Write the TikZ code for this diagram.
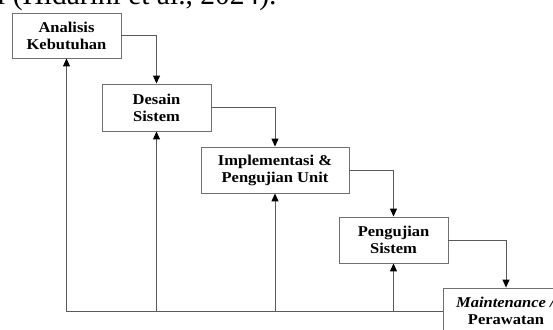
\documentclass[tikz,border=0pt]{standalone}
\usepackage{fontspec}
\setmainfont{Liberation Serif}
\newfontfamily\boxfont[FakeStretch=1.1]{Liberation Serif}
\usetikzlibrary{arrows.meta}
\definecolor{boxgray}{HTML}{707070}
\definecolor{linegray}{HTML}{5A5A5A}
\begin{document}
\begin{tikzpicture}[x=1pt,y=-1pt,
  box/.style={draw=boxgray, line width=0.9pt, fill=white, rectangle, align=center,
    inner sep=0pt, font=\boxfont\bfseries\fontsize{15}{17}\selectfont},
  conn/.style={draw=linegray, line width=1pt, -{Triangle[length=8pt,width=7pt,color=black]}},
  plain/.style={draw=linegray, line width=1pt}]
\useasboundingbox (0,0) rectangle (553,329);
\clip (0,0) rectangle (553,329);
\node[anchor=base west, inner sep=0pt, font=\fontsize{29.5}{30}\selectfont] (cap) at (-3,5) {l (Hidarini et al., 2024).};
\node[box, minimum width=109pt, minimum height=45pt] (a) at (66.5,35.5) {Analisis\\Kebutuhan};
\node[box, minimum width=109pt, minimum height=47pt] (b) at (156.5,107.5) {Desain\\Sistem};
\node[box, minimum width=148pt, minimum height=46pt] (c) at (275,170) {Implementasi \&\\Pengujian Unit};
\node[box, minimum width=109pt, minimum height=46pt] (d) at (393.5,240) {Pengujian\\Sistem};
\node[box, minimum width=126pt, minimum height=46pt] (e) at (506,311) {\textit{Maintenance /}\\Perawatan};
% forward flow
\draw[conn] (a.east) -| (b.north);
\draw[conn] (b.east) -| (c.north);
\draw[conn] (c.east) -| (d.north);
\draw[conn] (d.east) -| (e.north);
% feedback
\draw[conn] (e.west) -| (a.south);
\draw[conn] (b.south |- e.west) -- (b.south);
\draw[conn] (c.south |- e.west) -- (c.south);
\draw[conn] (d.south |- e.west) -- (d.south);
\end{tikzpicture}
\end{document}
